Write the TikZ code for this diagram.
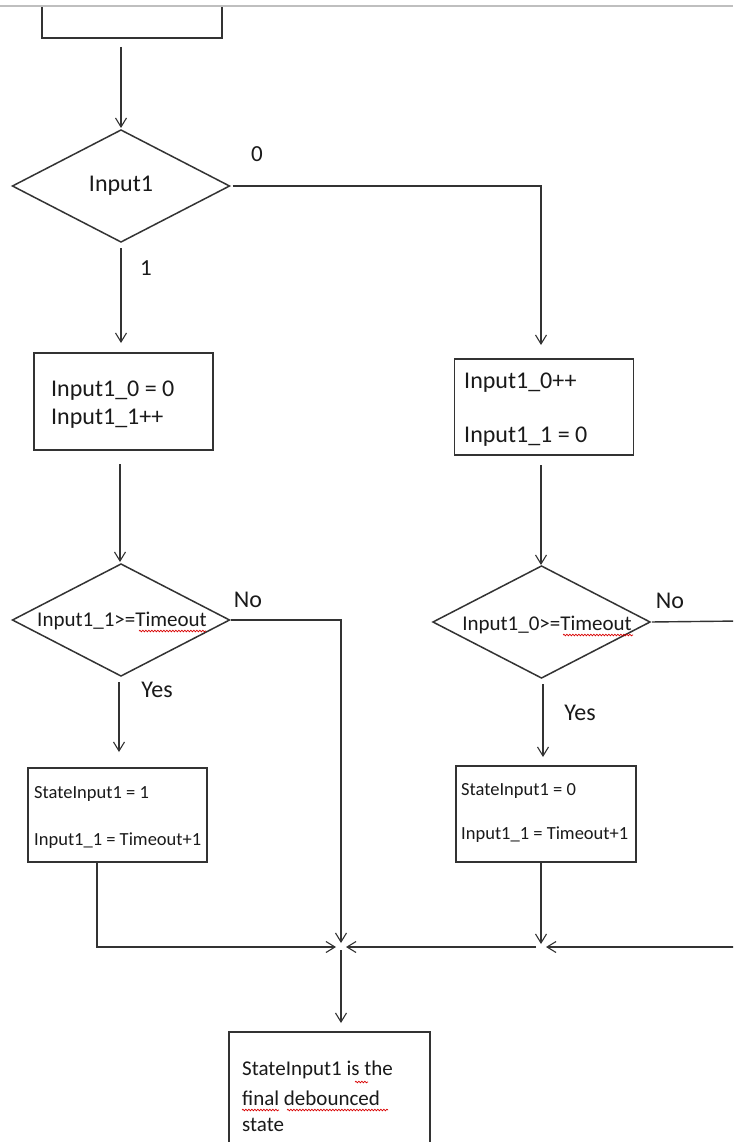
\documentclass[tikz,border=0pt]{standalone}
\usepackage{fontspec}
\setmainfont{Carlito}
\usetikzlibrary{arrows.meta,shapes.geometric,decorations.pathmorphing}
\definecolor{ink}{HTML}{1A1A1A}
\definecolor{edge}{HTML}{333333}
\begin{document}
\begin{tikzpicture}[x=1pt,y=-1pt,
  line/.style={draw=edge, line width=1.4pt},
  arr/.style={line, -{Straight Barb[length=9pt,width=11pt,line width=1.1pt]}},
  box/.style={draw=edge, line width=1.5pt, inner sep=0pt, outer sep=0pt, fill=white},
  dia/.style={diamond, draw=edge, line width=1.5pt, inner sep=0pt, outer sep=0pt, minimum width=217pt, minimum height=112pt},
  big/.style={text=ink, inner sep=0pt, font=\fontsize{24}{28}\selectfont},
  mid/.style={text=ink, inner sep=0pt, font=\fontsize{21}{25}\selectfont},
  small/.style={text=ink, inner sep=0pt, font=\fontsize{18.5}{22}\selectfont},
  lab/.style={text=ink, inner sep=0pt, font=\fontsize{23}{27}\selectfont},
  spell/.style={draw=red!85!black, line width=0.7pt, decorate, decoration={snake, segment length=3pt, amplitude=0.8pt}}
]
\clip (0,0) rectangle (733,1142);
\fill[white] (0,0) rectangle (733,1142);

% top (cut-off) box
\node[box, minimum width=180pt, minimum height=76pt] (top) at (132,0) {};
\fill[white] (-5,-50) rectangle (740,5);
\draw[draw=black!25, line width=1.5pt] (0,6) -- (733,6);

% decisions and boxes
\node[dia] (d1) at (121,186) {};
\node[big] (t1) at (121,186) {Input1};

\node[box, minimum width=179pt, minimum height=97pt] (b1) at (123.5,401.5) {};
\node[big, anchor=west] (t2) at (51,391) {Input1\_0 = 0};
\node[big, anchor=west] (t3) at (51,419) {Input1\_1++};

\node[box, minimum width=179pt, minimum height=96pt] (b2) at (544,407) {};
\node[big, anchor=west] (t4) at (464,383) {Input1\_0++};
\node[big, anchor=west] (t5) at (464,437) {Input1\_1 = 0};

\node[dia] (d2) at (121,620) {};
\node[mid] (t6) at (122,621) {Input1\_1>=Timeout};

\node[dia] (d3) at (541.5,622) {};
\node[mid] (t7) at (547,625) {Input1\_0>=Timeout};

\node[box, minimum width=179pt, minimum height=94pt] (b3) at (117.5,815) {};
\node[small, anchor=west] (t8) at (34,794) {StateInput1 = 1};
\node[small, anchor=west] (t9) at (34,841) {Input1\_1 = Timeout+1};

\node[box, minimum width=180pt, minimum height=96pt] (b4) at (546,814) {};
\node[small, anchor=west] (t10) at (461,791) {StateInput1 = 0};
\node[small, anchor=west] (t11) at (461,835) {Input1\_1 = Timeout+1};

\node[box, minimum width=201pt, minimum height=136pt] (b5) at (329.5,1100) {};
\node[mid, anchor=west] (t12) at (242,1070) {StateInput1 is the};
\node[mid, anchor=west] (t13) at (242,1098) {final debounced};
\node[mid, anchor=west] (t14) at (242,1125) {state};

% spell-check underlines
\draw[spell] (139,631) -- (206,631);
\draw[spell] (563,635) -- (633,635);
\draw[spell] (355,1082) -- (368,1082);
\draw[spell] (242,1110) -- (279,1110);
\draw[spell] (287,1110) -- (388,1110);

% labels
\node[lab] (l0) at (257,154) {0};
\node[lab] (l1) at (146,268) {1};
\node[big] (n1) at (248,600) {No};
\node[big] (y1) at (157,690) {Yes};
\node[big] (n2) at (670,601) {No};
\node[big] (y2) at (580,713) {Yes};

% junctions and edge points
\coordinate (J) at (341,947);
\coordinate (J2) at (541,947);
\coordinate (E1) at (740,621);
\coordinate (E2) at (740,947);

% connectors
\draw[arr, shorten <=9pt, shorten >=2pt] (d1.north |- top.south) -- (d1.north);
\draw[arr, shorten <=6pt, shorten >=10pt] (d1.south) -- (d1.south |- b1.north);
\draw[arr, shorten <=3pt, shorten >=14pt] (d1.east) -- ([xshift=-3pt]d1.east -| b2.north) -- ([xshift=-3pt]b2.north);
\draw[arr, shorten <=14pt, shorten >=2pt] ([xshift=-1pt]d2.north |- b1.south) -- ([xshift=-1pt]d2.north);
\draw[arr, shorten <=10pt, shorten >=1pt] ([xshift=-0.5pt]d3.north |- b2.south) -- ([xshift=-0.5pt]d3.north);
\draw[arr, shorten <=1pt, shorten >=4pt] (d2.east) -- (d2.east -| J) -- (J);
\draw[arr, shorten <=6pt, shorten >=16pt] ([xshift=-2pt]d2.south) -- ([xshift=-2pt]d2.south |- b3.north);
\draw[line, shorten <=2pt] (d3.east) -- (E1);
\draw[arr, shorten <=6pt, shorten >=9pt] ([xshift=1.5pt]d3.south) -- ([xshift=1.5pt]d3.south |- b4.north);
\draw[arr, shorten >=5pt] ([xshift=-20.5pt]b3.south) |- (J);
\draw[arr, shorten >=3pt] (b4.south -| J2) -- (J2);
\draw[arr, shorten >=5pt] (E2) -- (J2);
\draw[arr, shorten <=5pt, shorten >=5pt] (J2) -- (J);
\draw[arr, shorten <=3pt, shorten >=9pt] (J) -- (J |- b5.north);
\end{tikzpicture}
\end{document}
